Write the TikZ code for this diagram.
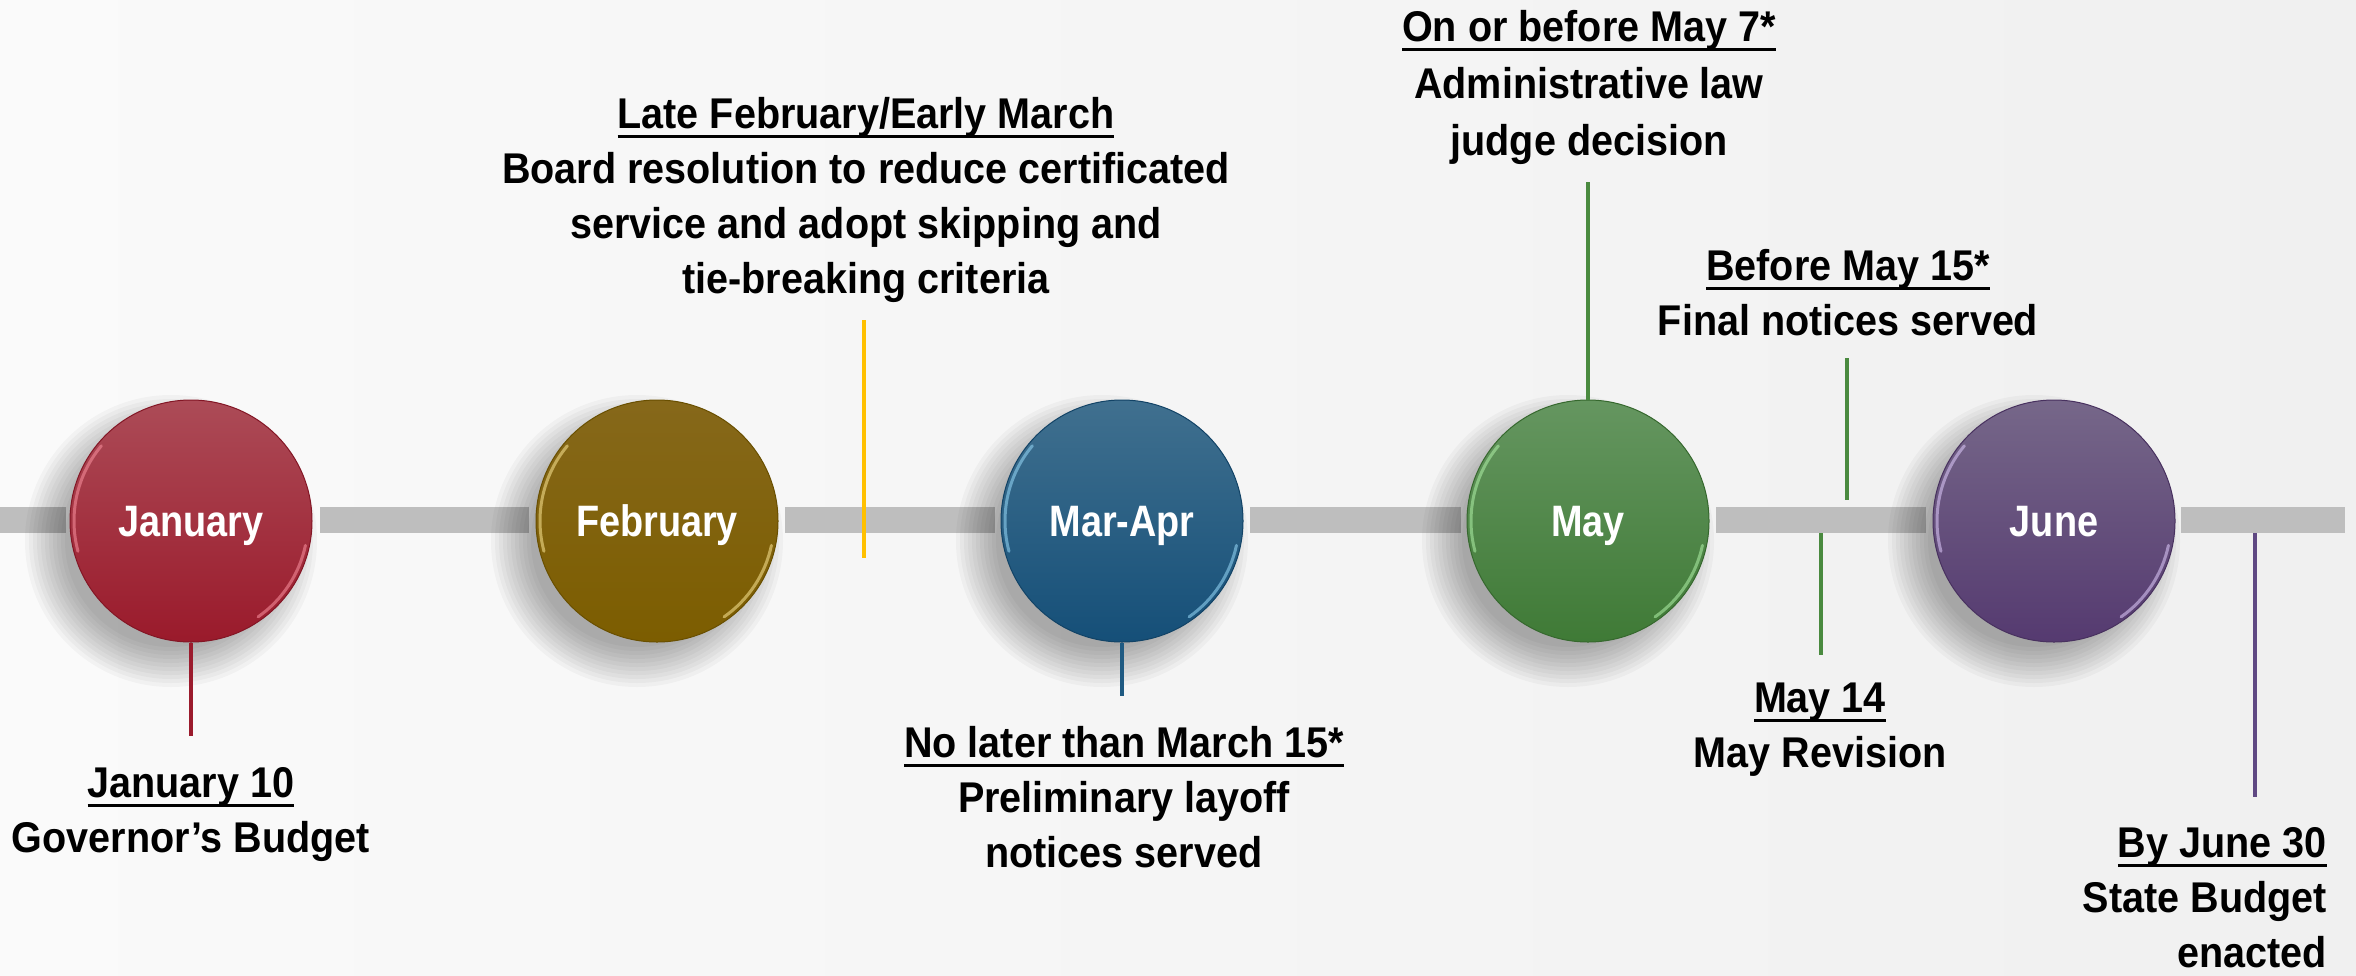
\documentclass[tikz,border=0pt]{standalone}
\usepackage{fontspec}
\setmainfont{Liberation Sans}[FakeStretch=0.92]
\newfontfamily\circfont{Liberation Sans}[FakeStretch=0.86]
\usetikzlibrary{calc}
\newsavebox\ulbox
\newcommand\myul[1]{\sbox\ulbox{#1}\rlap{\rule[-9.5pt]{\wd\ulbox}{3pt}}\usebox\ulbox}
\definecolor{bgL}{HTML}{FAFAFA}
\definecolor{bgR}{HTML}{F0F0F0}
\definecolor{barc}{HTML}{BEBEBE}
\definecolor{janT}{HTML}{AC4B57}
\definecolor{janB}{HTML}{9A1A2B}
\definecolor{febT}{HTML}{86681A}
\definecolor{febB}{HTML}{7C5D00}
\definecolor{marT}{HTML}{40708F}
\definecolor{marB}{HTML}{154F78}
\definecolor{mayT}{HTML}{659660}
\definecolor{mayB}{HTML}{3F7A36}
\definecolor{junT}{HTML}{766789}
\definecolor{junB}{HTML}{553A70}
\definecolor{janL}{HTML}{9B1B2D}
\definecolor{febL}{HTML}{FFC000}
\definecolor{marL}{HTML}{1F5A82}
\definecolor{mayL}{HTML}{4A8A3F}
\definecolor{junL}{HTML}{5F4882}
\tikzset{
  month/.style={circle, minimum size=242pt, inner sep=0pt, line width=1pt,
    font=\circfont\bfseries\fontsize{44}{50}\selectfont, text=white,
    text height=31pt, text depth=0pt},
  lbl/.style={inner sep=0pt, font=\bfseries\fontsize{43}{55}\selectfont, text=black},
  conn/.style={line width=3.5pt},
  barseg/.style={fill=barc},
  shadowring/.style={fill=black, opacity=0.03},
  rim/.style={line width=3pt, opacity=0.6, line cap=round}
}
\begin{document}
\begin{tikzpicture}[x=1pt,y=-1pt]
\useasboundingbox (0,0) rectangle (2356,975);
\shade[left color=bgL, right color=bgR] (0,0) rectangle (2356,975);

% bar segments
\fill[barseg] (0,507) rectangle (66,533);
\fill[barseg] (320,507) rectangle (529,533);
\fill[barseg] (785,507) rectangle (995,533);
\fill[barseg] (1250,507) rectangle (1461,533);
\fill[barseg] (1716,507) rectangle (1926,533);
\fill[barseg] (2181,507) rectangle (2345,533);

% centres
\coordinate (cjan) at (191,521);
\coordinate (cfeb) at (657,521);
\coordinate (cmar) at (1122,521);
\coordinate (cmay) at (1588,521);
\coordinate (cjun) at (2054,521);

% shadows
\foreach \c in {cjan,cfeb,cmar,cmay,cjun}{
  \foreach \r in {146,142,...,106}{
    \fill[shadowring] ($(\c)+(-20,20)$) circle (\r pt);
  }
}

% free ends of connectors
\coordinate (febTop) at (864,320);
\coordinate (febBot) at (864,558);
\coordinate (m15Top) at (1847,358);
\coordinate (m15Bot) at (1847,500);
\coordinate (m14Top) at (1821,533);
\coordinate (m14Bot) at (1821,655);
\coordinate (junTop) at (2255,533);
\coordinate (junBot) at (2255,797);
\coordinate (janEnd) at (191,736);
\coordinate (marEnd) at (1122,696);
\coordinate (mayEnd) at (1588,182);

% circles
\node[month, draw=janB!85!black, top color=janT, bottom color=janB] (jan) at (cjan) {January};
\node[month, draw=febB!85!black, top color=febT, bottom color=febB] (feb) at (cfeb) {February};
\node[month, draw=marB!85!black, top color=marT, bottom color=marB] (mar) at (cmar) {Mar-Apr};
\node[month, draw=mayB!85!black, top color=mayT, bottom color=mayB] (may) at (cmay) {May};
\node[month, draw=junB!85!black, top color=junT, bottom color=junB] (jun) at (cjun) {June};

% rim highlights
\foreach \c/\h in {cjan/F38A98,cfeb/F2DC8A,cmar/8FD0F0,cmay/A8E8A0,cjun/D6C2F2}{
  \definecolor{hl}{HTML}{\h}
  \draw[rim, hl] ($(\c)+(140:117pt)$) arc (140:195:117pt);
  \draw[rim, hl] ($(\c)+(-12:117pt)$) arc (-12:-55:117pt);
}

% connector lines
\draw[conn, janL] (jan.south) -- (janEnd);
\draw[conn, febL] (febTop) -- (febBot);
\draw[conn, marL] (mar.south) -- (marEnd);
\draw[conn, mayL] (may.north) -- (mayEnd);
\draw[conn, mayL] (m15Top) -- (m15Bot);
\draw[conn, mayL] (m14Top) -- (m14Bot);
\draw[conn, junL] (junTop) -- (junBot);

% labels
\node[lbl, anchor=base] (tjan) at (191,797)
  {\begin{tabular}[t]{@{}c@{}}\myul{January 10}\\Governor's Budget\end{tabular}};
\node[lbl, anchor=base] (tfeb) at (866,128)
  {\begin{tabular}[t]{@{}c@{}}\myul{Late February/Early March}\\Board resolution to reduce certificated\\service and adopt skipping and\\tie-breaking criteria\end{tabular}};
\node[lbl, anchor=base] (tmar) at (1124,757)
  {\begin{tabular}[t]{@{}c@{}}\myul{No later than March 15*}\\Preliminary layoff\\notices served\end{tabular}};
\node[lbl, anchor=base, font=\bfseries\fontsize{43}{57}\selectfont] (tmay7) at (1589,41)
  {\begin{tabular}[t]{@{}c@{}}\myul{On or before May 7*}\\Administrative law\\judge decision\end{tabular}};
\node[lbl, anchor=base] (tmay15) at (1848,280)
  {\begin{tabular}[t]{@{}c@{}}\myul{Before May 15*}\\Final notices served\end{tabular}};
\node[lbl, anchor=base] (tmay14) at (1820,712)
  {\begin{tabular}[t]{@{}c@{}}\myul{May 14}\\May Revision\end{tabular}};
\node[lbl, anchor=base east] (tjun) at (2327,857)
  {\begin{tabular}[t]{@{}r@{}}\myul{By June 30}\\State Budget\\enacted\end{tabular}};
\end{tikzpicture}
\end{document}
